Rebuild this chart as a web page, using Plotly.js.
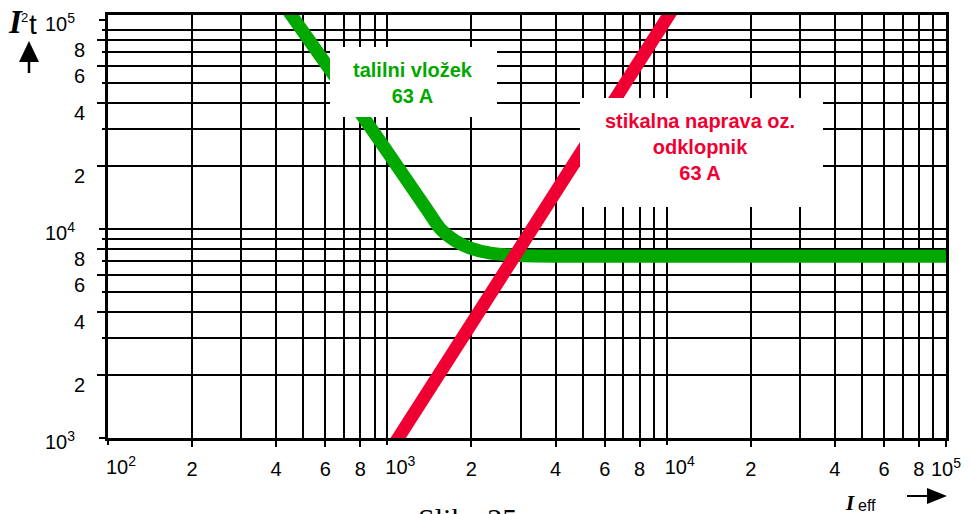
<!DOCTYPE html>
<html><head><meta charset="utf-8">
<script src="https://cdn.plot.ly/plotly-3.0.1.min.js"></script>
<style>html,body{margin:0;padding:0;background:#fff;overflow:hidden;} #chart{width:972px;height:514px;}</style>
</head><body><div id="chart"></div>
<script>
// ---- data ----
const fuseCurrent = [398, 453, 834, 1390, 1563, 1754, 1982, 2339, 3000, 5800, 100000];
const fuseI2t     = [135000, 105700, 33270, 12330, 9886, 8770, 8110, 7674, 7464, 7400, 7400];
const breakerCurrent = [950, 11000];
const breakerI2t     = [745, 124000];

const fuseLabel = '<b>talilni vložek<br>63 A</b>';
const breakerLabel = '<b>stikalna naprava oz.<br>odklopnik<br>63 A</b>';

const xDigitVals = [200,400,600,800,2000,4000,6000,8000,20000,40000,60000,80000,100000];
const xDigitText = ['2','4','6','8','2','4','6','8','2','4','6','8','10<sup>5</sup>'];
const xPowVals = [100,1000,10000];
const xPowText = ['10<sup>2</sup>','10<sup>3</sup>','10<sup>4</sup>'];
const xMinorVals = [300,500,700,900,1000,3000,5000,7000,9000,10000,30000,50000,70000,90000];

const yDigitVals = [2000,4000,6000,8000,20000,40000,60000,80000];
const yDigitText = ['2','4','6','8','2','4','6','8'];
const yPowVals = [1000,10000,100000];
const yPowText = ['10<sup>3</sup>','10<sup>4</sup>','10<sup>5</sup>'];
const yMinorVals = [3000,5000,7000,9000,10000,30000,50000,70000,90000];

// ---- style ----
const GREEN = '#00A800', RED = '#F00032';
const SANS = 'Liberation Sans, Arial, sans-serif';
const SERIF = 'Liberation Serif, Times New Roman, serif';
const X_L = 108, X_R = 946, Y_T = 15, Y_B = 438, W = 972, H = 514;
const px = p => (p - X_L) / (X_R - X_L);
const py = p => (Y_B - p) / (Y_B - Y_T);

const traces = [
  {x: fuseCurrent, y: fuseI2t, type: 'scatter', mode: 'lines',
   line: {color: GREEN, width: 13, shape: 'spline', smoothing: 1}, hoverinfo: 'skip', showlegend: false},
  {x: breakerCurrent, y: breakerI2t, type: 'scatter', mode: 'lines', xaxis: 'x2', yaxis: 'y2',
   line: {color: RED, width: 13}, hoverinfo: 'skip', showlegend: false}
];

const tickFont = () => ({family: SANS, size: 20, color: '#000'});
const xr = [2, 5], yr = [3, 5.024];

const layout = {
  width: W, height: H,
  margin: {l: X_L, r: W - X_R, t: Y_T, b: H - Y_B, pad: 0},
  paper_bgcolor: '#fff', plot_bgcolor: '#fff',
  showlegend: false,
  xaxis: {type: 'log', range: xr, tickmode: 'array', tickvals: xDigitVals, ticktext: xDigitText,
    ticks: 'outside', ticklen: 6, tickwidth: 2, tickcolor: '#000', tickfont: tickFont(),
    ticklabelstandoff: 5,
    showgrid: true, gridcolor: '#000', gridwidth: 2, zeroline: false,
    showline: true, linecolor: '#000', linewidth: 3, mirror: true,
    minor: {tickmode: 'array', tickvals: xMinorVals, showgrid: true, gridcolor: '#000', gridwidth: 2, ticks: ''},
    fixedrange: true},
  yaxis: {type: 'log', range: yr, tickmode: 'array', tickvals: yDigitVals, ticktext: yDigitText,
    ticks: 'outside', ticklen: 8, tickwidth: 2, tickcolor: '#000', tickfont: tickFont(),
    ticklabelstandoff: 8, ticklabelshift: 10,
    showgrid: true, gridcolor: '#000', gridwidth: 2, zeroline: false,
    showline: true, linecolor: '#000', linewidth: 3, mirror: true,
    minor: {tickmode: 'array', tickvals: yMinorVals, showgrid: true, gridcolor: '#000', gridwidth: 2,
            ticks: 'outside', ticklen: 3, tickwidth: 2, tickcolor: '#000'},
    fixedrange: true},
  xaxis2: {type: 'log', range: xr, overlaying: 'x', anchor: 'y2', side: 'bottom',
    tickmode: 'array', tickvals: xPowVals, ticktext: xPowText,
    ticks: 'outside', ticklen: 6, tickwidth: 2, tickcolor: '#000', tickfont: tickFont(),
    ticklabelstandoff: 5, ticklabelshift: 13,
    showgrid: false, zeroline: false, showline: false, fixedrange: true},
  yaxis2: {type: 'log', range: yr, overlaying: 'y', anchor: 'x2', side: 'left',
    tickmode: 'array', tickvals: yPowVals, ticktext: yPowText,
    ticks: 'outside', ticklen: 8, tickwidth: 2, tickcolor: '#000', tickfont: tickFont(),
    ticklabelstandoff: 20, ticklabelshift: 4,
    showgrid: false, zeroline: false, showline: false, fixedrange: true},
  shapes: [
    // white label boxes
    {type: 'rect', xref: 'paper', yref: 'paper', x0: px(330), x1: px(497), y0: py(117), y1: py(47),
     fillcolor: '#fff', line: {width: 0}, layer: 'above'},
    {type: 'rect', xref: 'paper', yref: 'paper', x0: px(580), x1: px(823), y0: py(207), y1: py(98),
     fillcolor: '#fff', line: {width: 0}, layer: 'above'},
    // up arrow (I2t)
    {type: 'path', xref: 'paper', yref: 'paper',
     path: `M ${px(19)},${py(62)} L ${px(39)},${py(62)} L ${px(29)},${py(41)} Z`,
     fillcolor: '#000', line: {width: 0}, layer: 'above'},
    {type: 'line', xref: 'paper', yref: 'paper', x0: px(29), x1: px(29), y0: py(61), y1: py(73),
     line: {color: '#000', width: 2.5}, layer: 'above'},
    // right arrow (Ieff)
    {type: 'line', xref: 'paper', yref: 'paper', x0: px(907), x1: px(929), y0: py(496), y1: py(496),
     line: {color: '#000', width: 2}, layer: 'above'},
    {type: 'path', xref: 'paper', yref: 'paper',
     path: `M ${px(927)},${py(488)} L ${px(927)},${py(504)} L ${px(947)},${py(496)} Z`,
     fillcolor: '#000', line: {width: 0}, layer: 'above'}
  ],
  annotations: [
    {xref: 'paper', yref: 'paper', x: px(412.5), y: py(83), xanchor: 'center', yanchor: 'middle',
     text: fuseLabel, showarrow: false, align: 'center', borderpad: 0, borderwidth: 0,
     font: {family: SANS, size: 20, color: GREEN}},
    {xref: 'paper', yref: 'paper', x: px(700), y: py(147), xanchor: 'center', yanchor: 'middle',
     text: breakerLabel, showarrow: false, align: 'center', borderpad: 0, borderwidth: 0,
     font: {family: SANS, size: 20, color: RED}},
    // I^2 t
    {xref: 'paper', yref: 'paper', x: px(8), y: py(4), xanchor: 'left', yanchor: 'top',
     text: '<b><i>I</i></b>', showarrow: false, borderpad: 0, borderwidth: 0,
     font: {family: SERIF, size: 33, color: '#000'}},
    {xref: 'paper', yref: 'paper', x: px(21), y: py(10), xanchor: 'left', yanchor: 'top',
     text: '2', showarrow: false, borderpad: 0, borderwidth: 0,
     font: {family: SANS, size: 13, color: '#000'}},
    {xref: 'paper', yref: 'paper', x: px(28.5), y: py(9), xanchor: 'left', yanchor: 'top',
     text: 't', showarrow: false, borderpad: 0, borderwidth: 0,
     font: {family: SANS, size: 28, color: '#000'}},
    // I_eff
    {xref: 'paper', yref: 'paper', x: px(845), y: py(491), xanchor: 'left', yanchor: 'top',
     text: '<b><i>I</i></b>', showarrow: false, borderpad: 0, borderwidth: 0,
     font: {family: SERIF, size: 21, color: '#000'}},
    {xref: 'paper', yref: 'paper', x: px(858), y: py(497), xanchor: 'left', yanchor: 'top',
     text: 'eff', showarrow: false, borderpad: 0, borderwidth: 0,
     font: {family: SANS, size: 16, color: '#000'}},
    // caption (cut by the bottom edge, as in the reference)
    {xref: 'paper', yref: 'paper', x: px(467.5), y: py(502), xanchor: 'center', yanchor: 'top',
     text: 'Slika 25', showarrow: false, borderpad: 0, borderwidth: 0,
     font: {family: SERIF, size: 30, color: '#000'}}
  ]
};

Plotly.newPlot('chart', traces, layout, {staticPlot: true, displayModeBar: false});
</script>
</body></html>
